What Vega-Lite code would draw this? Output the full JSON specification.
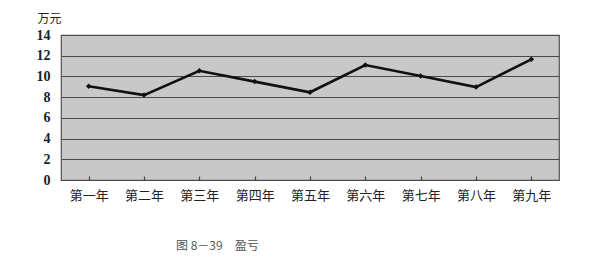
{
  "$schema": "https://vega.github.io/schema/vega-lite/v6.json",
  "autosize": {"type": "none"},
  "width": 498,
  "height": 145,
  "padding": {"left": 61, "top": 35, "right": 40, "bottom": 88},
  "background": "white",
  "title": {
    "text": "图 8－39\u3000盈亏",
    "orient": "bottom",
    "anchor": "start",
    "dx": 140,
    "offset": 39,
    "font": "Noto Sans CJK SC",
    "fontSize": 12,
    "fontWeight": "normal",
    "color": "#555"
  },
  "config": {
    "view": {"fill": "#c8c8c8", "stroke": "#555", "strokeWidth": 1.2}
  },
  "data": {
    "values": [
      {"year": "第一年", "value": 9.05},
      {"year": "第二年", "value": 8.2},
      {"year": "第三年", "value": 10.55},
      {"year": "第四年", "value": 9.5},
      {"year": "第五年", "value": 8.47},
      {"year": "第六年", "value": 11.1},
      {"year": "第七年", "value": 10.04},
      {"year": "第八年", "value": 8.97},
      {"year": "第九年", "value": 11.65}
    ]
  },
  "mark": {
    "type": "line",
    "color": "#111",
    "strokeWidth": 2.6,
    "point": {"shape": "diamond", "filled": true, "size": 30, "color": "#111"}
  },
  "encoding": {
    "x": {
      "field": "year",
      "type": "ordinal",
      "sort": null,
      "scale": {"paddingInner": 0, "paddingOuter": 0},
      "axis": {
        "title": null,
        "labelAngle": 0,
        "domain": false,
        "ticks": true,
        "bandPosition": 0,
        "tickSize": -4,
        "tickWidth": 1.2,
        "tickColor": "#444",
        "labelPadding": 13,
        "labelFont": "Noto Sans CJK SC",
        "labelFontSize": 13,
        "labelColor": "#222",
        "grid": false
      }
    },
    "y": {
      "field": "value",
      "type": "quantitative",
      "scale": {"domain": [0, 14], "nice": false},
      "axis": {
        "values": [0, 2, 4, 6, 8, 10, 12, 14],
        "title": "万元",
        "titleAngle": 0,
        "titleAlign": "left",
        "titleBaseline": "middle",
        "titleX": -24,
        "titleY": -17,
        "titleFont": "Noto Sans CJK SC",
        "titleFontSize": 12,
        "titleFontWeight": "normal",
        "titleColor": "#222",
        "domain": false,
        "ticks": false,
        "labelPadding": 11,
        "labelFont": "Liberation Serif",
        "labelFontSize": 14,
        "labelFontWeight": "bold",
        "labelColor": "#222",
        "grid": true,
        "gridColor": "#4a4a4a",
        "gridOpacity": 1,
        "gridWidth": 1
      }
    }
  }
}
